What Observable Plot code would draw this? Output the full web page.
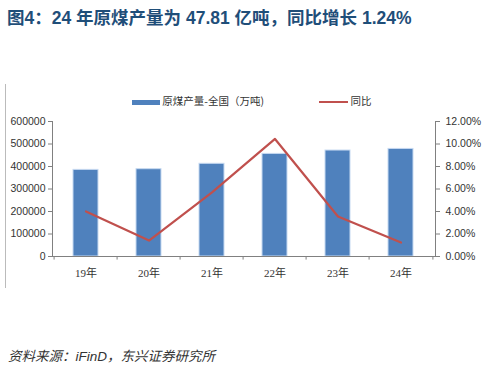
<!DOCTYPE html>
<html><head><meta charset="utf-8">
<script src="https://cdn.jsdelivr.net/npm/d3@7"></script>
<script src="https://cdn.jsdelivr.net/npm/@observablehq/plot@0.6"></script>
<style>
body{margin:0;background:#fff;font-family:"Liberation Sans","Noto Sans CJK SC",sans-serif;}
#wrap{position:relative;width:492px;height:369px;overflow:hidden;}
#title{position:absolute;left:7px;top:4px;font-size:17.5px;font-weight:bold;color:#1f4e79;font-family:"Liberation Sans","Noto Sans CJK SC",sans-serif;white-space:nowrap;}
#chart{position:absolute;left:0;top:0;}
#legend{position:absolute;top:93px;left:132px;font-size:10.5px;color:#333;font-family:"Noto Sans CJK SC",sans-serif;white-space:nowrap;}
#legend span.sw{display:inline-block;vertical-align:middle;}
#source{position:absolute;left:8px;top:345px;font-size:13.5px;font-style:italic;color:#333;font-family:"Liberation Sans","Noto Sans CJK SC",sans-serif;white-space:nowrap;}
#frame{position:absolute;left:5px;top:84px;width:1px;height:204px;background:#bbb;}
</style></head>
<body><div id="wrap">
<div id="title"></div>
<div id="frame"></div>
<div id="chart"></div>
<div id="legend"></div>
<div id="source"></div>
</div>
<script>
const years = ["19年","20年","21年","22年","23年","24年"];
const production = [385000, 388000, 412000, 456000, 471000, 478100];
const yoy = [4.0, 1.42, 5.7, 10.45, 3.55, 1.24];
const leftTicks = [0,100000,200000,300000,400000,500000,600000];
const rightTicks = [0,2,4,6,8,10,12];
const titleText = "图4：24 年原煤产量为 47.81 亿吨，同比增长 1.24%";
const barLabel = "原煤产量-全国（万吨)";
const lineLabel = "同比";
const sourceText = "资料来源：iFinD，东兴证券研究所";

const data = years.map((y,i)=>({year:y, prod:production[i], yoy:yoy[i]}));
const scaleRatio = 600000/12; // right axis (%) -> left axis units

const W = 492, H = 369, mL = 52, mR = 57, mT = 121, mB = 113;
const step = (W - mL - mR) / years.length;

const plot = Plot.plot({
  width: W, height: H,
  marginLeft: mL, marginRight: mR, marginTop: mT, marginBottom: mB,
  style: {fontSize: "11px", color: "#333", fontFamily: "'Liberation Serif','Noto Sans CJK SC',serif", background: "transparent"},
  x: {domain: years, paddingInner: 0.6, paddingOuter: 0.3},
  y: {domain: [0, 600000]},
  marks: [
    Plot.barY(data, {x: "year", y: "prod", fill: "#4f81bd", stroke: "#c6d9f1", strokeWidth: 1}),
    Plot.frame({anchor: "left", stroke: "#808080"}),
    Plot.frame({anchor: "right", stroke: "#808080"}),
    Plot.frame({anchor: "bottom", stroke: "#808080"}),
    Plot.ruleX(data, {x: "year", y1: 0, y2: -16000, dx: -step/2, stroke: "#808080"}),
    Plot.ruleX(data.slice(-1), {x: "year", y1: 0, y2: -16000, dx: step/2, stroke: "#808080"}),
    Plot.axisX({tickSize: 0, tickPadding: 13, label: null, fontSize: 11}),
    Plot.axisY({ticks: leftTicks, tickFormat: d => String(d), tickSize: 4, tickPadding: 3, label: null, stroke: "#808080",
      fontFamily: "'Liberation Sans',sans-serif", fontSize: 10.5}),
    Plot.axisY({anchor: "right", ticks: rightTicks.map(v => v*scaleRatio), tickFormat: d => (d/scaleRatio).toFixed(2) + "%",
      tickSize: 4, tickPadding: 6, label: null, stroke: "#808080", fontFamily: "'Liberation Sans',sans-serif", fontSize: 10.5}),
    Plot.line(data, {x: "year", y: d => d.yoy * scaleRatio, stroke: "#c0504d", strokeWidth: 2.2})
  ]
});
document.getElementById("chart").appendChild(plot);
document.getElementById("title").textContent = titleText;
document.getElementById("source").textContent = sourceText;
document.getElementById("legend").innerHTML =
  `<span class="sw" style="width:28px;height:5px;background:#4f81bd;"></span> <span>${barLabel}</span>` +
  `<span class="sw" style="width:29px;height:2px;background:#c0504d;margin-left:55px;"></span> <span>${lineLabel}</span>`;
</script>
</body></html>
